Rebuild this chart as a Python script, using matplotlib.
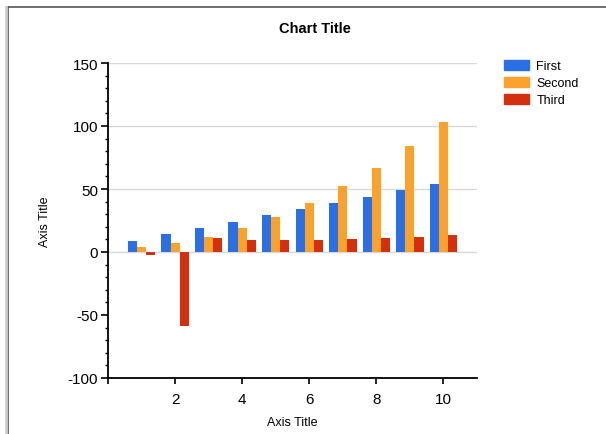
from matplotlib import pyplot as plt
from matplotlib.lines import Line2D
from matplotlib.patches import Patch
from matplotlib.ticker import MultipleLocator


# data
x_vals = [1, 2, 3, 4, 5, 6, 7, 8, 9, 10]
first = [9, 14, 19, 24, 29, 34, 39, 44, 49, 54]
second = [4, 7, 12, 19, 28, 39, 52, 67, 84, 103]
third = [-2.5, -59, 11.4, 9.5, 9.5, 9.5, 10.3, 11.4, 12.2, 13.3]
series_names = ['First', 'Second', 'Third']

colors = ['#2a6fe3', '#fba22c', '#d4300d']


def main():
   plt.rcParams['font.family'] = ['Liberation Sans', 'DejaVu Sans']
   plt.rcParams['axes.unicode_minus'] = False
   fig = plt.figure(figsize=(6.06, 4.35), dpi=100)
   ax = fig.add_axes([108/606, 56/435, 369/606, 315/435])

   w = 0.272
   for i, vals in enumerate([first, second, third]):
      xs = [x + (i - 1) * w for x in x_vals]
      ax.bar(xs, vals, width=w, color=colors[i], zorder=3)

   ax.set_xlim(0, 11)
   ax.set_ylim(-100, 150)
   ax.set_xticks([0, 2, 4, 6, 8, 10])
   ax.set_xticklabels(['', '2', '4', '6', '8', '10'])
   ax.yaxis.set_major_locator(MultipleLocator(50))
   ax.yaxis.set_minor_locator(MultipleLocator(10))
   ax.tick_params(axis='both', labelsize=11, colors='black', width=1.2)
   ax.tick_params(axis='y', which='major', length=5, pad=2)
   ax.tick_params(axis='y', which='minor', length=2.5, width=1)
   ax.tick_params(axis='x', which='major', length=4, pad=6)

   for y in [0, 50, 100, 150]:
      ax.axhline(y, color='#d9d9d9', linewidth=1, zorder=1)

   for s in ['top', 'right']:
      ax.spines[s].set_visible(False)
   ax.spines['left'].set_linewidth(1.3)
   ax.spines['bottom'].set_linewidth(1.3)

   ax.set_xlabel('Axis Title', fontsize=9, labelpad=7)
   ax.set_ylabel('Axis Title', fontsize=9, labelpad=12)
   fig.text(315/606, 1 - 29/435, 'Chart Title', fontsize=10.5, fontweight='bold',
            ha='center', va='center')

   handles = [Patch(color=c) for c in colors]
   fig.legend(handles, series_names, loc='upper left',
              bbox_to_anchor=(495/606, 1 - 52/435), frameon=False,
              fontsize=9, handlelength=2.0, handleheight=0.9,
              handletextpad=0.6, labelspacing=0.35, borderpad=0.2)

   # screenshot frame
   fig.add_artist(Line2D([8/606, 8/606], [0, 1 - 8/435], color='#555555', lw=1.2))
   fig.add_artist(Line2D([8/606, 1], [1 - 8/435, 1 - 8/435], color='#555555', lw=1.2))
   fig.add_artist(Line2D([6/606, 6/606], [0, 1 - 8/435], color='#cccccc', lw=2))

   fig.savefig('out.png', dpi=100)


if __name__ == "__main__":
   main()
